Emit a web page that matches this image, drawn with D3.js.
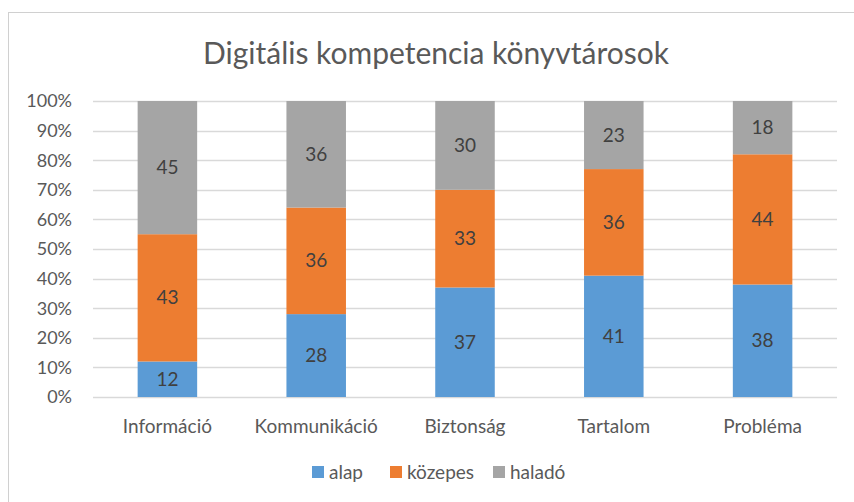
<!DOCTYPE html>
<html>
<head>
<meta charset="utf-8">
<script src="https://cdn.jsdelivr.net/npm/d3@7"></script>
<style>
  body { margin: 0; background: #fff; }
  text { font-family: Lato, "Open Sans", sans-serif; }
</style>
</head>
<body>
<div id="chart"></div>
<script>
// chart data
var categories = ["Információ", "Kommunikáció", "Biztonság", "Tartalom", "Probléma"];
var seriesNames = ["alap", "közepes", "haladó"];
var alap = [12, 28, 37, 41, 38];
var kozepes = [43, 36, 33, 36, 44];
var halado = [45, 36, 30, 23, 18];
var yTicks = [0, 0.1, 0.2, 0.3, 0.4, 0.5, 0.6, 0.7, 0.8, 0.9, 1];

var colors = ["#5B9BD5", "#ED7D31", "#A5A5A5"];

var width = 854, height = 502;
var margin = {top: 101, right: 17, bottom: 105, left: 93};

var svg = d3.select("#chart")
  .append("svg")
    .attr("width", width)
    .attr("height", height);

// outer frame of the chart
svg.append("rect")
  .attr("x", 8.5).attr("y", 12.5)
  .attr("width", 870).attr("height", 520)
  .attr("fill", "none")
  .attr("stroke", "#d0d0d0")
  .attr("stroke-width", 1);

svg.append("text")
  .attr("x", 436).attr("y", 64)
  .attr("text-anchor", "middle")
  .attr("font-size", "30px")
  .attr("fill", "#595959")
  .text("Digitális kompetencia könyvtárosok");

// rows: one per category, values per series
var rows = categories.map(function (c, i) {
  return {cat: c, alap: alap[i], "közepes": kozepes[i], "haladó": halado[i]};
});

var stack = d3.stack().keys(seriesNames).offset(d3.stackOffsetExpand);
var layers = stack(rows);

var x = d3.scaleBand()
  .domain(categories)
  .range([margin.left, width - margin.right])
  .paddingInner(0.6)
  .paddingOuter(0.3);

var y = d3.scaleLinear()
  .domain([0, 1])
  .range([height - margin.bottom, margin.top]);

// gridlines
svg.append("g")
  .selectAll("line")
  .data(yTicks)
  .enter()
  .append("line")
    .attr("x1", margin.left)
    .attr("x2", width - margin.right)
    .attr("y1", function (d) { return Math.round(y(d)) + 0.5; })
    .attr("y2", function (d) { return Math.round(y(d)) + 0.5; })
    .attr("stroke", "#d9d9d9")
    .attr("stroke-width", 1.3);

// y tick labels
svg.append("g")
  .selectAll("text")
  .data(yTicks)
  .enter()
  .append("text")
    .attr("x", 72)
    .attr("y", function (d) { return y(d); })
    .attr("dy", "0.35em")
    .attr("text-anchor", "end")
    .attr("font-size", "18px")
    .attr("fill", "#595959")
    .text(d3.format(".0%"));

// bars
var groups = svg.append("g")
  .selectAll("g")
  .data(layers)
  .enter()
  .append("g")
    .attr("fill", function (d, i) { return colors[i]; });

groups.selectAll("rect")
  .data(function (d) { return d; })
  .enter()
  .append("rect")
    .attr("x", function (d) { return x(d.data.cat); })
    .attr("y", function (d) { return y(d[1]); })
    .attr("width", x.bandwidth())
    .attr("height", function (d) { return y(d[0]) - y(d[1]); });

// data labels
groups.selectAll("text")
  .data(function (d) { return d.map(function (p) { return {p: p, key: d.key}; }); })
  .enter()
  .append("text")
    .attr("x", function (d) { return x(d.p.data.cat) + x.bandwidth() / 2; })
    .attr("y", function (d) { return (y(d.p[0]) + y(d.p[1])) / 2; })
    .attr("dy", "0.35em")
    .attr("text-anchor", "middle")
    .attr("font-size", "19px")
    .attr("fill", "#404040")
    .text(function (d) { return d.p.data[d.key]; });

// x labels
svg.append("g")
  .selectAll("text")
  .data(categories)
  .enter()
  .append("text")
    .attr("x", function (d) { return x(d) + x.bandwidth() / 2; })
    .attr("y", 433)
    .attr("text-anchor", "middle")
    .attr("font-size", "19px")
    .attr("fill", "#595959")
    .text(function (d) { return d; });

// legend
var legendX = [312, 390, 493];
var legend = svg.append("g")
  .selectAll("g")
  .data(seriesNames)
  .enter()
  .append("g")
    .attr("transform", function (d, i) { return "translate(" + legendX[i] + ",472)"; });

legend.append("rect")
  .attr("x", 0).attr("y", -6)
  .attr("width", 12).attr("height", 12)
  .attr("fill", function (d, i) { return colors[i]; });

legend.append("text")
  .attr("x", 17)
  .attr("y", 0)
  .attr("dy", "0.35em")
  .attr("font-size", "19px")
  .attr("fill", "#595959")
  .text(function (d) { return d; });
</script>
</body>
</html>
